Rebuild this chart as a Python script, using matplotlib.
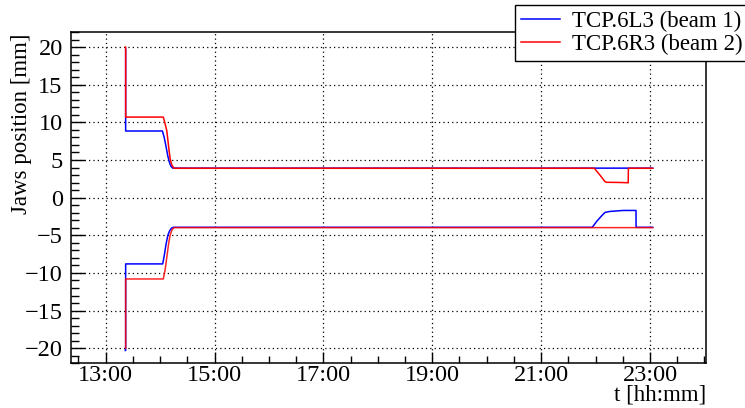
import pandas as pd
import matplotlib
matplotlib.use("Agg")
import matplotlib.pyplot as plt
from matplotlib.ticker import MultipleLocator, FuncFormatter

# jaw positions (time as hh:mm:ss, position in mm)
b1_up_t = ["13:22:00", "13:22:00", "14:02:30", "14:04:30", "14:06:30", "14:08:30",
           "14:10:30", "14:12:00", "14:14:00", "23:03:00"]
b1_up_v = [19.7, 8.85, 8.85, 8.0, 6.8, 5.5, 4.6, 4.15, 3.92, 3.92]

b1_lo_t = ["13:21:40", "13:22:00", "13:22:00", "14:02:50", "14:04:40", "14:06:30",
           "14:08:30", "14:10:30", "14:12:30", "14:14:30", "21:56:24", "22:01:15",
           "22:06:47", "22:10:25", "22:15:54", "22:30:36", "22:44:35", "22:44:40",
           "23:03:00"]
b1_lo_v = [-20.3, -20.3, -8.8, -8.8, -7.6, -6.2, -5.0, -4.4, -4.05, -3.94, -3.94,
           -3.15, -2.4, -1.96, -1.83, -1.7, -1.7, -3.94, -3.94]

b2_up_t = ["13:21:40", "13:22:00", "13:22:00", "14:03:30", "14:05:30", "14:07:20",
           "14:09:50", "14:11:00", "14:12:50", "14:15:20", "21:58:35", "22:04:50",
           "22:10:20", "22:12:00", "22:25:00", "22:36:00", "22:36:10", "23:03:00"]
b2_up_v = [20.0, 20.0, 10.7, 10.7, 9.8, 8.9, 6.3, 5.2, 4.35, 3.9, 3.9, 3.0,
           2.14, 2.04, 2.02, 1.98, 3.9, 3.9]

b2_lo_t = ["13:22:00", "13:22:00", "14:03:30", "14:05:30", "14:07:30", "14:09:30",
           "14:11:00", "14:13:00", "14:15:20", "23:03:00"]
b2_lo_v = [-20.0, -10.8, -10.8, -9.6, -7.8, -6.0, -5.0, -4.3, -3.98, -3.98]

labels = ["TCP.6L3 (beam 1)", "TCP.6R3 (beam 2)"]


def hours(ts):
    return pd.to_timedelta(ts).total_seconds().to_numpy() / 3600.0


def hhmm(x, pos):
    m = int(round(x * 60))
    return "%02d:%02d" % ((m // 60) % 24, m % 60)


plt.rcParams['font.family'] = ['Liberation Serif', 'DejaVu Serif']

fig = plt.figure(figsize=(7.45, 4.08), dpi=100)
ax = fig.add_axes([71 / 745, 1 - 363.3 / 408, 635 / 745, 331.3 / 408])

l1, = ax.plot(hours(b1_up_t), b1_up_v, color='#0000ff', lw=1.1)
ax.plot(hours(b1_lo_t), b1_lo_v, color='#0000ff', lw=1.1)
l2, = ax.plot(hours(b2_up_t), b2_up_v, color='#ff0000', lw=1.1)
ax.plot(hours(b2_lo_t), b2_lo_v, color='#ff0000', lw=1.1, alpha=0.85)

ax.set_xlim(12.3625, 24.029)
ax.set_ylim(-22, 22)

ax.set_xticks([13, 15, 17, 19, 21, 23])
ax.xaxis.set_minor_locator(MultipleLocator(0.5))
ax.xaxis.set_major_formatter(FuncFormatter(hhmm))
ax.yaxis.set_major_locator(MultipleLocator(5))
ax.yaxis.set_minor_locator(MultipleLocator(1))

ax.tick_params(axis='both', which='both', direction='in', labelsize=17.5,
               top=False, right=False, width=1.0)
ax.tick_params(axis='x', which='major', length=8, pad=1)
ax.tick_params(axis='x', which='minor', length=5)
ax.tick_params(axis='y', which='major', length=10, pad=6)
ax.tick_params(axis='y', which='minor', length=6)

ax.grid(True, which='major', color='black', linestyle=(0, (1, 2.5)), linewidth=0.9)
for s in ax.spines.values():
    s.set_linewidth(1.1)

ax.text(1.0, (363.3 - 400) / 331.3, "t [hh:mm]", transform=ax.transAxes,
        ha='right', va='baseline', fontsize=16.5)
fig.text(22 / 745, 1 - 33 / 408, "Jaws position [mm]", rotation=90,
         ha='center', va='top', fontsize=16.5)

leg = ax.legend([l1, l2], labels, loc='upper left',
                bbox_to_anchor=(515 / 745, 1 - 5 / 408),
                bbox_transform=fig.transFigure, fontsize=16.5, frameon=True,
                fancybox=False, framealpha=1, edgecolor='black',
                handlelength=1.72, handletextpad=0.5, borderpad=0.25,
                labelspacing=0.08, borderaxespad=0)
leg.get_frame().set_linewidth(1.0)

fig.savefig("out.png", dpi=100)
